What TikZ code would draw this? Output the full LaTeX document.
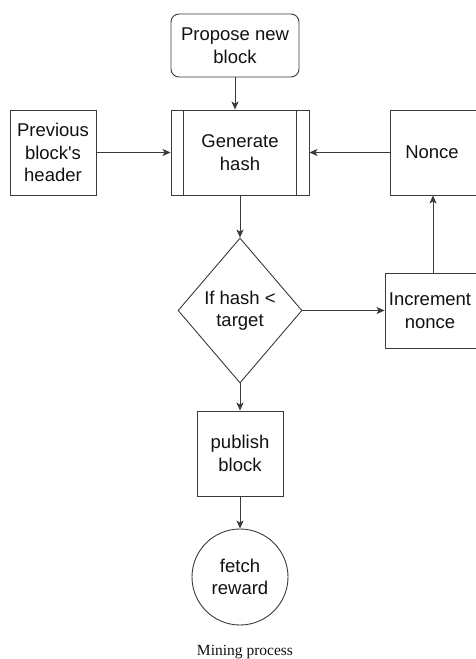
\documentclass[tikz,border=0pt]{standalone}
\usepackage{fontspec}
\setmainfont{Liberation Sans}[Ligatures=TeXOff]
\newfontfamily\capfont{Liberation Serif}
\usetikzlibrary{shapes.geometric,arrows.meta,calc}
\definecolor{edge}{HTML}{3A3A3A}
\definecolor{ink}{HTML}{111111}
\begin{document}
\begin{tikzpicture}[x=1pt,y=-1pt,
  base/.style={draw=edge,line width=0.9pt,text=ink,align=center,inner sep=0pt,
    font=\fontsize{18.5}{22.5}\selectfont},
  boxnode/.style={base,rectangle},
  roundbox/.style={base,rectangle,rounded corners=8pt},
  decision/.style={base,diamond,aspect=0.855},
  endnode/.style={base,circle,minimum size=96pt},
  link/.style={draw=edge,line width=0.9pt,-{Stealth[length=8pt,width=7pt,inset=2pt]}}]
\useasboundingbox (0,0) rectangle (475,659);
\node[roundbox,minimum width=128pt,minimum height=63pt] (propose) at (235,45.5) {Propose new\\block};
\node[boxnode,minimum width=138pt,minimum height=85pt] (gen) at (240,152.5) {Generate\\hash};
\draw[draw=edge,line width=0.9pt] ($(gen.north west)+(13,0)$) -- ($(gen.south west)+(13,0)$);
\draw[draw=edge,line width=0.9pt] ($(gen.north east)+(-13,0)$) -- ($(gen.south east)+(-13,0)$);
\node[boxnode,minimum width=86pt,minimum height=85pt] (prev) at (53,152.5) {Previous\\block's\\header};
\node[boxnode,minimum width=90pt,minimum height=85pt] (nonce) at (435,152.5) {};
\node[text=ink,font=\fontsize{18.5}{22.5}\selectfont] (noncetxt) at (432,152.5) {Nonce};
\node[boxnode,minimum width=94pt,minimum height=75pt] (incr) at (432,310.5) {};
\node[text=ink,align=center,inner sep=0pt,font=\fontsize{18.5}{22.5}\selectfont] (incrtxt) at (430,310.5) {Increment\\nonce};
\node[decision,minimum width=124pt,minimum height=145pt] (dia) at (240,310.5) {If hash <\\target};
\node[boxnode,minimum width=86pt,minimum height=85pt] (pub) at (240,453.5) {publish\\block};
\node[endnode] (fetch) at (240,577) {fetch\\reward};
\node[font=\capfont\fontsize{15.5}{18}\selectfont,text=ink,anchor=base] (cap) at (245,655) {Mining process};
\coordinate (upstart) at (433,0);
\draw[link] (propose.south) -- (propose.south |- gen.north);
\draw[link] (prev.east) -- (gen.west);
\draw[link] (nonce.west) -- (gen.east);
\draw[link] (gen.south) -- (dia.north);
\draw[link] (dia.east) -- (incr.west);
\draw[link] (upstart |- incr.north) -- (upstart |- nonce.south);
\draw[link] (dia.south) -- (pub.north);
\draw[link] (pub.south) -- (fetch.north);
\end{tikzpicture}
\end{document}
